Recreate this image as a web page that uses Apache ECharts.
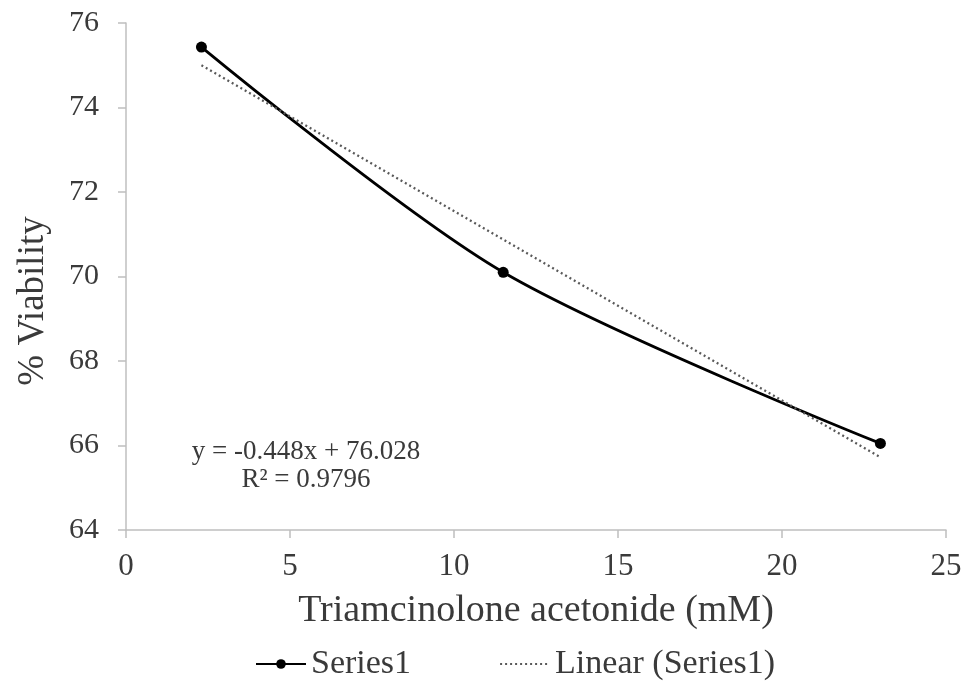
<!DOCTYPE html>
<html>
<head>
<meta charset="utf-8">
<script src="https://cdn.jsdelivr.net/npm/echarts@6/dist/echarts.min.js"></script>
<style>
html,body{margin:0;padding:0;background:#fff;}
#c{width:965px;height:684px;}
</style>
</head>
<body>
<div id="c"></div>
<script>
// Data
const xValues = [2.3, 11.5, 23];
const viability = [75.43, 70.1, 66.05];
const trendX = [2.3, 23];
const trendY = [75.0, 65.72];
const xTicks = [0, 5, 10, 15, 20, 25];
const yTicks = [64, 66, 68, 70, 72, 74, 76];
const equationText = 'y = -0.448x + 76.028';
const r2Text = 'R² = 0.9796';
const xTitle = 'Triamcinolone acetonide (mM)';
const yTitle = '% Viability';

const FONT = '"Liberation Serif", "Times New Roman", serif';
const TXT = '#3a3a3a';

const chart = echarts.init(document.getElementById('c'));
chart.setOption({
  animation: false,
  backgroundColor: '#fff',
  grid: { left: 126, right: 19, top: 23, bottom: 154, containLabel: false, outerBoundsMode: 'none' },
  xAxis: {
    type: 'value', min: xTicks[0], max: xTicks[xTicks.length - 1], interval: 5,
    name: xTitle, nameLocation: 'middle', nameGap: 62,
    nameTextStyle: { fontFamily: FONT, fontSize: 38, color: TXT },
    axisLine: { show: true, lineStyle: { color: '#bfbfbf', width: 1.5 } },
    axisTick: { show: true, length: 8, inside: false, lineStyle: { color: '#bfbfbf', width: 1.5 } },
    axisLabel: { fontFamily: FONT, fontSize: 31, color: TXT, margin: 21 },
    splitLine: { show: false }
  },
  yAxis: {
    type: 'value', min: yTicks[0], max: yTicks[yTicks.length - 1], interval: 2,
    axisLine: { show: true, lineStyle: { color: '#bfbfbf', width: 1.5 } },
    axisTick: { show: true, length: 8, lineStyle: { color: '#bfbfbf', width: 1.5 } },
    axisLabel: { fontFamily: FONT, fontSize: 30, color: TXT, margin: 27 },
    splitLine: { show: false }
  },
  legend: {
    top: 642, left: 250, itemGap: 88, itemWidth: 50, itemHeight: 12,
    textStyle: { fontFamily: FONT, fontSize: 34, color: TXT },
    data: [
      { name: 'Series1' },
      { name: 'Linear (Series1)', itemStyle: { opacity: 0 } }
    ]
  },
  graphic: [{
    type: 'text', x: 306, y: 466,
    style: { text: equationText + '\n' + r2Text, fontFamily: FONT, fontSize: 27, fill: TXT,
             align: 'center', verticalAlign: 'middle', lineHeight: 28 }
  }, {
    type: 'text', x: 33, y: 301, rotation: Math.PI / 2,
    style: { text: yTitle, fontFamily: FONT, fontSize: 37, fill: TXT,
             align: 'center', verticalAlign: 'middle' }
  }],
  series: [{
    name: 'Series1', type: 'line', smooth: 0.3,
    data: xValues.map((x, i) => [x, viability[i]]),
    symbol: 'circle', symbolSize: 11, showSymbol: true,
    lineStyle: { color: '#000', width: 2.8 },
    itemStyle: { color: '#000' }
  }, {
    name: 'Linear (Series1)', type: 'line',
    data: trendX.map((x, i) => [x, trendY[i]]),
    showSymbol: false, symbol: 'none',
    lineStyle: { color: '#595959', width: 2.2, type: [2, 3] },
    itemStyle: { color: '#595959' }
  }]
});
</script>
</body>
</html>
